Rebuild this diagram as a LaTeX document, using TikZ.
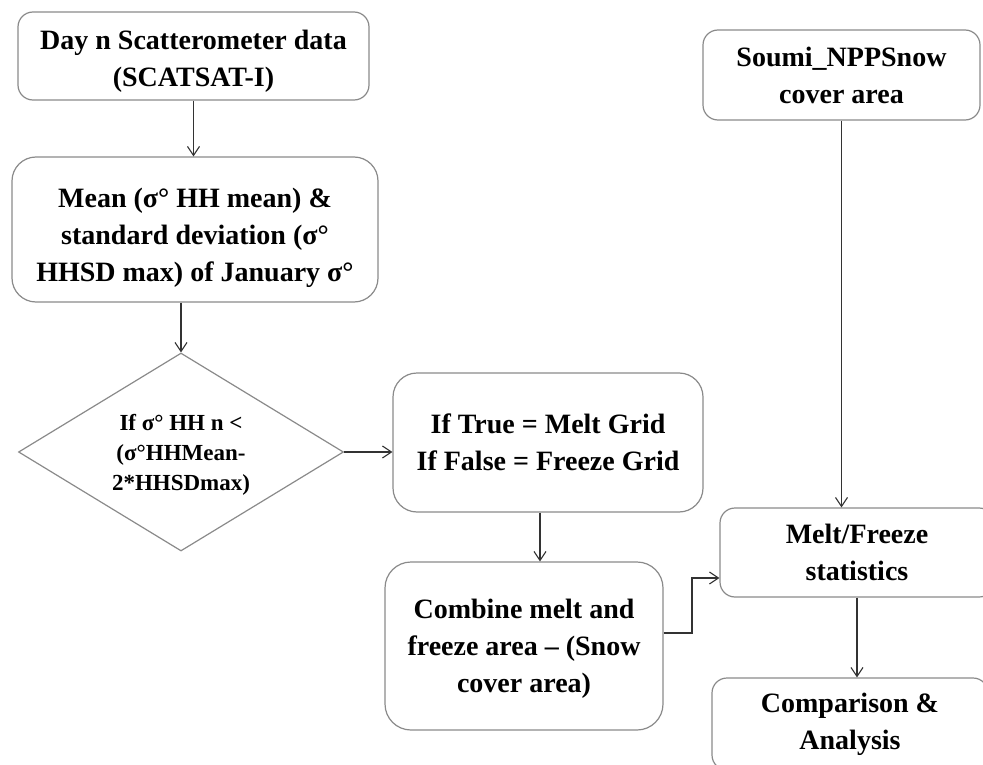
\documentclass[tikz,border=0pt]{standalone}
\usepackage{fontspec}
\setmainfont{Liberation Serif}
\usetikzlibrary{shapes.geometric,arrows.meta}
\definecolor{boxline}{HTML}{8A8A8A}
\definecolor{arrline}{HTML}{333333}
\tikzset{
  box/.style={draw=boxline, line width=1.2pt, rounded corners=#1, inner sep=0pt, align=center,
    font={\fontsize{28}{37}\selectfont\bfseries}, text=black},
  box/.default=15pt,
  txt/.style={inner sep=0pt, align=center, font={\fontsize{28}{37}\selectfont\bfseries}, text=black},
  arr/.style={draw=arrline, line width=1.1pt, -{Straight Barb[length=9pt,width=12pt]}},
}
\begin{document}
\begin{tikzpicture}[x=1pt,y=-1pt]
\useasboundingbox (0,0) rectangle (983,765);
\node[box=15pt, minimum width=351pt, minimum height=88pt] (b1) at (193.5,56) {};
\node[txt] (b1t) at ([yshift=-5pt]b1.center) {Day n Scatterometer data\\(SCATSAT-I)};
\node[box=24pt, minimum width=366pt, minimum height=145pt] (b2) at (195,229.5) {};
\node[txt] (b2t) at ([yshift=-8pt]b2.center) {Mean (σ° HH mean) \&\\standard deviation (σ°\\HHSD max) of January σ°};
\node[draw=boxline, line width=1.2pt, diamond, minimum width=325pt, minimum height=198pt, inner sep=0pt, align=center,
  font={\fontsize{23}{30}\selectfont\bfseries}] (dia) at (181,452) {};
\node[inner sep=0pt, align=center, font={\fontsize{23}{30}\selectfont\bfseries}] (diat) at ([yshift=-3pt]dia.center) {If σ° HH n <\\(σ°HHMean-\\2*HHSDmax)};
\node[box=24pt, minimum width=310pt, minimum height=139pt] (b3) at (548,442.5) {If True = Melt Grid\\If False = Freeze Grid};
\node[box=26pt, minimum width=278pt, minimum height=168pt] (b4) at (524,646) {};
\node[txt] (b4t) at ([yshift=-3pt]b4.center) {Combine melt and\\freeze area – (Snow\\cover area)};
\node[box=15pt, minimum width=277pt, minimum height=90pt] (s) at (841.5,75) {Soumi\_NPPSnow\\cover area};
\node[box=15pt, minimum width=274pt, minimum height=89pt] (b5) at (857,552.5) {Melt/Freeze\\statistics};
\node[box=15pt, minimum width=276pt, minimum height=92pt] (b6) at (850,724) {Comparison \&\\Analysis};

\draw[arr] (b1.south) -- (b1.south |- b2.north);
\draw[arr] ([xshift=-14pt]b2.south) -- (dia.north);
\draw[arr] (dia.east) -- (dia.east -| b3.west);
\draw[arr] ([xshift=-8pt]b3.south) -- ([xshift=-8pt]b3.south |- b4.north);
\coordinate (k1) at (692,633);
\draw[arr] ([yshift=13pt]b4.east) -- (k1) |- ([yshift=-25.5pt]b5.west);
\draw[arr] (s.south) -- (s.south |- b5.north);
\draw[arr] (b5.south) -- (b5.south |- b6.north);
\end{tikzpicture}
\end{document}
